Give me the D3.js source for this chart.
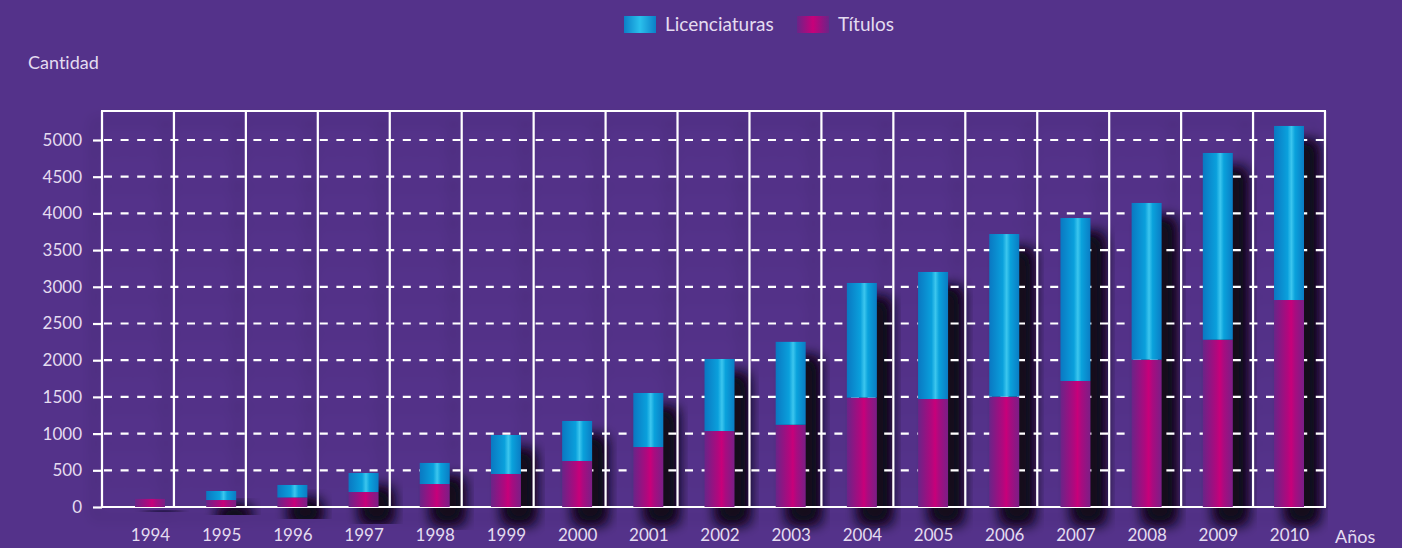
<!DOCTYPE html>
<html><head><meta charset="utf-8">
<script src="https://cdn.jsdelivr.net/npm/d3@7"></script>
<style>
html,body{margin:0;padding:0;background:#54328a;}
svg{display:block;}
text{font-family:Lato,"Open Sans",sans-serif;fill:#e4dcf0;font-variant-ligatures:none;font-feature-settings:"liga" 0;}
</style></head>
<body>
<svg id="c" width="1402" height="548"></svg>
<script>
const years = ["1994","1995","1996","1997","1998","1999","2000","2001","2002","2003","2004","2005","2006","2007","2008","2009","2010"];
const titulos = [110, 95, 130, 204, 313, 450, 627, 817, 1035, 1120, 1490, 1471, 1503, 1717, 2007, 2279, 2820];
const licenciaturas = [0, 123, 170, 259, 287, 531, 545, 736, 981, 1130, 1562, 1731, 2216, 2220, 2135, 2544, 2371];
const yTicks = [0, 500, 1000, 1500, 2000, 2500, 3000, 3500, 4000, 4500, 5000];
const seriesNames = ["Títulos", "Licenciaturas"];

const svg = d3.select("#c");
svg.append("rect").attr("width",1402).attr("height",548).attr("fill","#54328a");

const defs = svg.append("defs");
function grad(id, stops){
  const g = defs.append("linearGradient").attr("id",id).attr("x1","0%").attr("x2","100%").attr("y1","0%").attr("y2","0%");
  stops.forEach(s=>g.append("stop").attr("offset",s[0]).attr("stop-color",s[1]));
}
grad("gBlue", [["0%","#0a78c2"],["45%","#0aa0dc"],["58%","#3cc6ee"],["70%","#0aa2dc"],["100%","#0a7cc4"]]);
grad("gMag", [["0%","#6a2488"],["45%","#b0087e"],["57%","#c8007a"],["70%","#a80c80"],["100%","#7a1e86"]]);
grad("gBlueL", [["0%","#0a80c8"],["50%","#2ac0ec"],["100%","#0a80c8"]]);
grad("gMagL", [["0%","#6a2488"],["50%","#c8007a"],["100%","#6a2488"]]);

const f = defs.append("filter").attr("id","sh").attr("x","-80%").attr("y","-50%").attr("width","260%").attr("height","200%");
f.append("feGaussianBlur").attr("in","SourceAlpha").attr("stdDeviation",7).attr("result","b");
f.append("feOffset").attr("in","b").attr("dx",13).attr("dy",16).attr("result","o");
f.append("feFlood").attr("flood-color","#140a1e").attr("result","c");
f.append("feComposite").attr("in","c").attr("in2","o").attr("operator","in").attr("result","o2");
const m = f.append("feMerge");
m.append("feMergeNode").attr("in","o2");
m.append("feMergeNode").attr("in","o2");

const f2 = defs.append("filter").attr("id","sh2").attr("x","-20%").attr("y","-20%").attr("width","140%").attr("height","140%");
f2.append("feGaussianBlur").attr("in","SourceAlpha").attr("stdDeviation",7).attr("result","b");
f2.append("feOffset").attr("in","b").attr("dx",-8).attr("dy",10).attr("result","o");
f2.append("feComponentTransfer").attr("in","o").attr("result","o2")
  .append("feFuncA").attr("type","linear").attr("slope",0.3);
const m2 = f2.append("feMerge");
m2.append("feMergeNode").attr("in","o2");
m2.append("feMergeNode").attr("in","SourceGraphic");

const frameL = 102, frameR = 1325, frameT = 111;
const y = d3.scaleLinear().domain([0,5000]).range([507,140]);
const x = d3.scalePoint().domain(years).range([150,1289]);
const colX = d3.scaleLinear().domain([0, years.length]).range([frameL, frameR]);
const barW = 30;

const rows = years.map((yr,i)=>({year:yr, "Títulos":titulos[i], "Licenciaturas":licenciaturas[i]}));
const stack = d3.stack().keys(seriesNames)(rows);
const fills = {"Títulos":"url(#gMag)","Licenciaturas":"url(#gBlue)"};

// bar shadows (behind grid)
svg.append("g").selectAll("rect").data(rows).join("rect")
  .attr("x",d=>x(d.year)-barW/2).attr("width",barW)
  .attr("y",d=>y(d["Títulos"]+d["Licenciaturas"])).attr("height",d=>y(0)-y(d["Títulos"]+d["Licenciaturas"]))
  .attr("fill","#000").attr("filter","url(#sh)");

// grid & frame
const grid = svg.append("g").attr("filter","url(#sh2)");
grid.selectAll("line.h").data(yTicks.filter(d=>d>0)).join("line")
  .attr("x1",frameL+2).attr("x2",frameR).attr("y1",d=>y(d)).attr("y2",d=>y(d))
  .attr("stroke","#ffffff").attr("stroke-width",2.2).attr("stroke-dasharray","8,8.6");
grid.selectAll("line.v").data(d3.range(years.length+1)).join("line")
  .attr("x1",d=>colX(d)).attr("x2",d=>colX(d)).attr("y1",frameT).attr("y2",y(0))
  .attr("stroke","#ffffff").attr("stroke-width",2.2);
grid.append("line").attr("x1",frameL-1).attr("x2",frameR+1).attr("y1",frameT).attr("y2",frameT)
  .attr("stroke","#fff").attr("stroke-width",2.2);
grid.append("line").attr("x1",frameL-1).attr("x2",frameR+1).attr("y1",y(0)).attr("y2",y(0))
  .attr("stroke","#fff").attr("stroke-width",2.2);

// y axis
const yAxis = d3.axisLeft(y).tickValues(yTicks).tickFormat(d3.format("d")).tickSize(9).tickPadding(11);
const ya = svg.append("g").attr("transform",`translate(${frameL},0)`).call(yAxis);
ya.select(".domain").remove();
ya.selectAll(".tick line").attr("stroke","#fff").attr("stroke-width",2.2);
ya.selectAll(".tick text").attr("font-size",17).attr("fill","#e4dcf0").attr("font-family","Lato");

// bars
const barsG = svg.append("g");
stack.forEach(s=>{
  barsG.selectAll(null).data(s.filter(d=>d[1]>d[0])).join("rect")
    .attr("x",d=>x(d.data.year)-barW/2).attr("width",barW)
    .attr("y",d=>y(d[1])).attr("height",d=>y(d[0])-y(d[1]))
    .attr("fill",fills[s.key]);
});

// x labels
const xAxis = d3.axisBottom(x).tickSize(0).tickPadding(0);
const xa = svg.append("g").attr("transform","translate(0,541)").call(xAxis);
xa.select(".domain").remove();
xa.selectAll(".tick text").attr("font-size",17).attr("fill","#e4dcf0").attr("font-family","Lato").attr("dy","0");

// titles
svg.append("text").attr("x",28).attr("y",69).attr("font-size",18).text("Cantidad");
svg.append("text").attr("x",1335).attr("y",543).attr("font-size",18).text("Años");

// legend
const legend = [{name:"Licenciaturas", fill:"url(#gBlueL)", x:624},{name:"Títulos", fill:"url(#gMagL)", x:797}];
const lg = svg.append("g").selectAll("g").data(legend).join("g").attr("transform",d=>`translate(${d.x},16)`);
lg.append("rect").attr("width",32).attr("height",17).attr("fill",d=>d.fill);
lg.append("text").attr("x",41).attr("y",15).attr("font-size",19).text(d=>d.name);
</script>
</body></html>
